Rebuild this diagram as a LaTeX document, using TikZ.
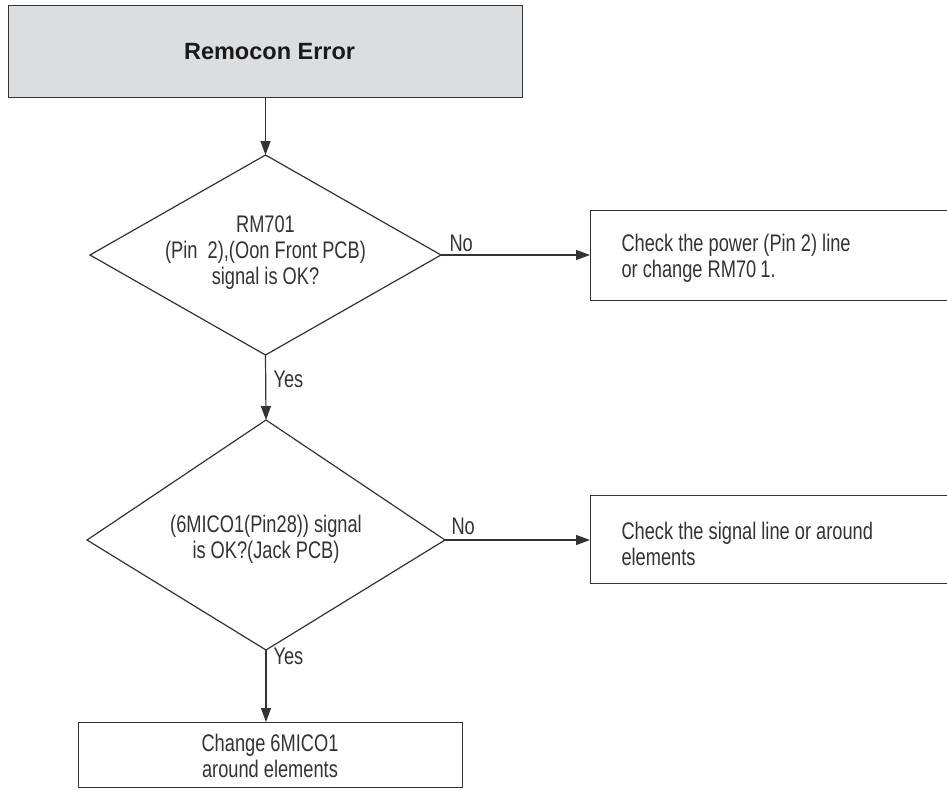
\documentclass[tikz,border=0pt]{standalone}
\usepackage{fontspec}
\setmainfont{Liberation Sans}
\newfontfamily\condf{Liberation Sans}[FakeStretch=0.76]
\usetikzlibrary{arrows.meta}
\definecolor{tgray}{HTML}{DCDDDF}
\definecolor{ink}{HTML}{333333}
\begin{document}
\begin{tikzpicture}[x=1pt,y=-1pt,
  lbl/.style={font=\condf\fontsize{24}{26}\selectfont, text=ink},
  box/.style={draw=ink, line width=1.2pt},
  arr/.style={draw=ink, line width=1.2pt, -{Triangle[length=14pt,width=10pt]}}]
\useasboundingbox (0,0) rectangle (947,790);
% title
\node[box, fill=tgray, minimum width=514, minimum height=92, anchor=north west] (t) at (8,5) {};
\node[font=\fontsize{23.5}{26}\selectfont\bfseries, text=black!90] (tt) at ([xshift=4pt]t.center) {Remocon Error};
% diamond 1
\coordinate (d1t) at (265.5,155);
\coordinate (d1r) at (441,255);
\coordinate (d1b) at (265.5,355);
\coordinate (d1l) at (90,255);
\draw[box] (d1t) -- (d1r) -- (d1b) -- (d1l) -- cycle;
\node[lbl, align=center] (d1) at (265.5,253) {RM701\\(Pin\ \ 2),(Oon Front PCB)\\signal is OK?};
% box 2
\node[box, minimum width=362, minimum height=90, anchor=north west] (b2) at (590,210) {};
\node[lbl, align=left, anchor=west] (b2t) at (618,258) {Check the power (Pin 2) line\\or change RM70\,1.};
% diamond 2
\coordinate (d2t) at (266,420);
\coordinate (d2r) at (445,540);
\coordinate (d2b) at (266,650);
\coordinate (d2l) at (87,540);
\draw[box] (d2t) -- (d2r) -- (d2b) -- (d2l) -- cycle;
\node[lbl, align=center] (d2) at (266,539) {(6MICO1(Pin28)) signal\\is OK?(Jack PCB)};
% box 3
\node[box, minimum width=362, minimum height=88, anchor=north west] (b3) at (590,495) {};
\node[lbl, align=left, anchor=west] (b3t) at (618,544) {Check the signal line or around\\elements};
% box 4
\node[box, minimum width=384, minimum height=65, anchor=north west] (b4) at (78,722) {};
\node[lbl, align=center] (b4t) at (270,756) {Change 6MICO1\\around elements};
% labels
\node[lbl, anchor=west] (n1) at (446,243) {No};
\node[lbl, anchor=west] (y1) at (270,379) {Yes};
\node[lbl, anchor=west] (n2) at (448,526) {No};
\node[lbl, anchor=west] (y2) at (270,656) {Yes};
% connectors
\draw[arr] (t.south -| d1t) -- (d1t);
\draw[arr] (d1r) -- (b2.west |- d1r);
\draw[arr] (d1b) -- (d2t);
\draw[arr] (d2r) -- (b3.west |- d2r);
\draw[arr] (d2b) -- (b4.north -| d2b);
\end{tikzpicture}
\end{document}
